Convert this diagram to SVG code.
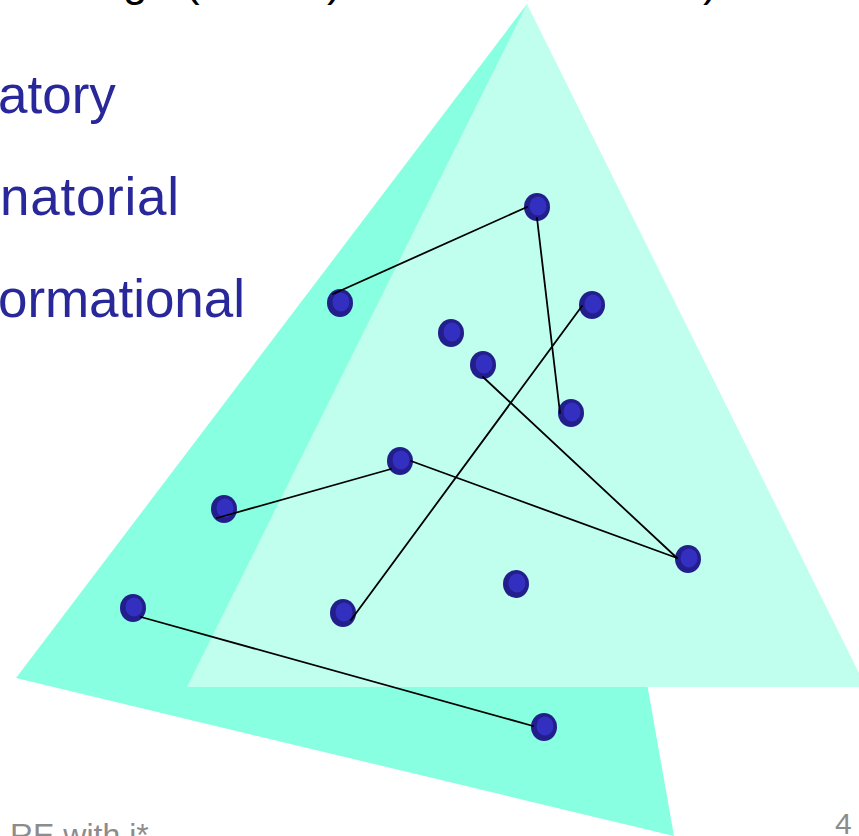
<svg xmlns="http://www.w3.org/2000/svg" width="859" height="836" viewBox="0 0 859 836">
<style>
.t{font-family:"Liberation Sans",Arial,sans-serif;fill:#29289A;font-size:53px}
.title{font-family:"Liberation Sans",Arial,sans-serif;fill:#000;font-size:44px}
.foot{font-family:"Liberation Sans",Arial,sans-serif;fill:#8C8C8C}
.outer{fill:#221F8C}
.inner{fill:#332FC0}
.edge{stroke:#000;stroke-width:1.8;fill:none;stroke-linecap:round}
</style>
<defs>
<g id="dot"><ellipse class="outer" cx="0" cy="0" rx="13" ry="14"/><ellipse class="inner" cx="1" cy="-1" rx="8.5" ry="9.5"/></g>
</defs>
<rect width="859" height="836" fill="#fff"/>
<g id="title">
<text class="title" x="123" y="-4">g</text>
<text class="title" x="185" y="-4">(</text>
<text class="title" x="327" y="-4">)</text>
<text class="title" x="703" y="-4">)</text>
</g>
<g id="bullets">
<text class="t" x="-2" y="113">atory</text>
<text class="t" x="0" y="215" textLength="179" lengthAdjust="spacing">natorial</text>
<text class="t" x="-2" y="317" textLength="247" lengthAdjust="spacing">ormational</text>
</g>
<g id="triangles">
<polygon id="tri-back" points="527,4 16,678 674,836" fill="#88FFE0"/>
<polygon id="tri-front" points="527,4 187,687 866,687" fill="#C0FFEE"/>
</g>
<g id="nodes">
<use id="n1" href="#dot" x="537" y="207"/>
<use id="n2" href="#dot" x="340" y="303"/>
<use id="n3" href="#dot" x="451" y="333"/>
<use id="n4" href="#dot" x="483" y="365"/>
<use id="n5" href="#dot" x="592" y="305"/>
<use id="n6" href="#dot" x="571" y="413"/>
<use id="n7" href="#dot" x="400" y="461"/>
<use id="n8" href="#dot" x="224" y="509"/>
<use id="n9" href="#dot" x="133" y="608"/>
<use id="n10" href="#dot" x="343" y="613"/>
<use id="n11" href="#dot" x="688" y="559"/>
<use id="n12" href="#dot" x="516" y="584"/>
<use id="n13" href="#dot" x="544" y="727"/>
</g>
<g id="connectors">
<line class="edge" x1="333" y1="294" x2="527" y2="207"/>
<line class="edge" x1="537" y1="218" x2="560" y2="413"/>
<line class="edge" x1="582" y1="306" x2="351" y2="620"/>
<line class="edge" x1="483" y1="377" x2="677" y2="558"/>
<line class="edge" x1="411" y1="461" x2="677" y2="558"/>
<line class="edge" x1="391" y1="469" x2="217" y2="518"/>
<line class="edge" x1="141" y1="617" x2="533" y2="726"/>
</g>
<g id="footer">
<text class="foot" x="10" y="846" font-size="32">RE with i*</text>
<text class="foot" x="835" y="834" font-size="30">4</text>
</g>
</svg>
